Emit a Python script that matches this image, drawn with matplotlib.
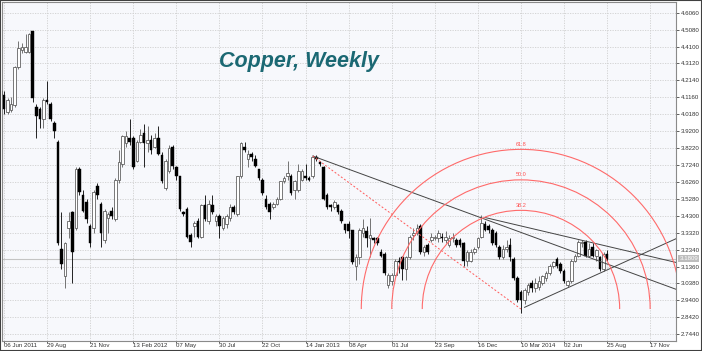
import numpy as np
import matplotlib.pyplot as plt
from matplotlib.patches import Arc, Rectangle

# weekly candles, index 0 = week of 06 Jun 2011
weeks = np.arange(-1, 169)
opens = [4.15, 4.13, 4.03, 4.04, 4.07, 4.29, 4.39, 4.38, 4.38, 4.50,
         4.06, 4.05, 3.99, 4.10, 4.08, 3.97, 3.86, 3.24, 3.08, 3.36,
         3.45, 3.36, 3.70, 3.55, 3.51, 3.37, 3.36, 3.60, 3.50, 3.29,
         3.42, 3.46, 3.41, 3.64, 3.73, 3.85, 3.88, 3.88, 3.75, 3.86,
         3.91, 3.85, 3.87, 3.83, 3.88, 3.78, 3.59, 3.69, 3.83, 3.71,
         3.66, 3.45, 3.47, 3.32, 3.37, 3.40, 3.31, 3.49, 3.40, 3.49,
         3.40, 3.43, 3.36, 3.38, 3.42, 3.48, 3.44, 3.66, 3.83, 3.76,
         3.79, 3.76, 3.70, 3.64, 3.53, 3.50, 3.48, 3.50, 3.53, 3.63,
         3.66, 3.66, 3.58, 3.58, 3.64, 3.66, 3.65, 3.66, 3.77, 3.74,
         3.71, 3.55, 3.49, 3.48, 3.49, 3.46, 3.38, 3.38, 3.35, 3.14,
         3.19, 3.33, 3.34, 3.30, 3.30, 3.30, 3.22, 3.21, 3.03, 3.05,
         3.09, 3.17, 3.19, 3.12, 3.19, 3.32, 3.33, 3.37, 3.22, 3.26,
         3.29, 3.30, 3.30, 3.31, 3.29, 3.26, 3.30, 3.29, 3.29, 3.27,
         3.17, 3.17, 3.22, 3.25, 3.31, 3.38, 3.37, 3.35, 3.33, 3.25,
         3.19, 3.24, 3.26, 3.18, 3.07, 2.99, 2.94, 2.99, 3.04, 3.01,
         3.02, 3.04, 3.07, 3.10, 3.14, 3.18, 3.15, 3.11, 3.03, 3.05,
         3.17, 3.20, 3.27, 3.28, 3.20, 3.25, 3.20, 3.19, 3.12, 3.21]
highs = [4.17, 4.15, 4.11, 4.12, 4.30, 4.44, 4.43, 4.48, 4.49, 4.50,
         4.08, 4.06, 4.11, 4.21, 4.09, 3.98, 3.87, 3.45, 3.28, 3.45,
         3.46, 3.71, 3.71, 3.58, 3.53, 3.38, 3.58, 3.62, 3.51, 3.47,
         3.45, 3.48, 3.65, 3.81, 3.90, 3.92, 3.99, 3.89, 3.87, 3.93,
         3.96, 3.95, 3.90, 3.91, 3.95, 3.80, 3.76, 3.84, 3.84, 3.72,
         3.66, 3.46, 3.48, 3.33, 3.40, 3.42, 3.50, 3.55, 3.52, 3.55,
         3.44, 3.44, 3.43, 3.44, 3.50, 3.49, 3.66, 3.86, 3.86, 3.81,
         3.80, 3.78, 3.70, 3.65, 3.55, 3.51, 3.51, 3.54, 3.63, 3.66,
         3.75, 3.67, 3.64, 3.73, 3.70, 3.73, 3.66, 3.78, 3.78, 3.75,
         3.72, 3.56, 3.50, 3.52, 3.50, 3.47, 3.38, 3.40, 3.35, 3.21,
         3.36, 3.41, 3.37, 3.42, 3.31, 3.31, 3.24, 3.22, 3.10, 3.10,
         3.18, 3.19, 3.20, 3.20, 3.32, 3.36, 3.38, 3.38, 3.26, 3.27,
         3.33, 3.32, 3.35, 3.33, 3.34, 3.32, 3.33, 3.30, 3.30, 3.28,
         3.23, 3.24, 3.25, 3.31, 3.435, 3.40, 3.38, 3.36, 3.34, 3.26,
         3.26, 3.29, 3.30, 3.19, 3.08, 3.00, 3.01, 3.04, 3.06, 3.07,
         3.08, 3.09, 3.11, 3.15, 3.17, 3.19, 3.16, 3.12, 3.06, 3.18,
         3.21, 3.29, 3.29, 3.29, 3.27, 3.27, 3.24, 3.20, 3.22, 3.23]
lows = [4.11, 4.02, 4.02, 4.03, 4.06, 4.28, 4.37, 4.37, 4.37, 4.09,
        3.88, 3.94, 3.94, 4.08, 3.98, 3.88, 3.26, 3.12, 3.01, 3.30,
        3.04, 3.35, 3.55, 3.45, 3.39, 3.25, 3.33, 3.53, 3.25, 3.27,
        3.33, 3.41, 3.40, 3.62, 3.71, 3.83, 3.84, 3.70, 3.74, 3.85,
        3.71, 3.80, 3.79, 3.82, 3.78, 3.62, 3.58, 3.68, 3.70, 3.64,
        3.46, 3.43, 3.30, 3.25, 3.31, 3.30, 3.30, 3.40, 3.38, 3.44,
        3.37, 3.30, 3.35, 3.36, 3.40, 3.44, 3.43, 3.65, 3.80, 3.71,
        3.75, 3.71, 3.64, 3.55, 3.47, 3.41, 3.47, 3.49, 3.52, 3.62,
        3.64, 3.55, 3.53, 3.57, 3.63, 3.64, 3.63, 3.65, 3.75, 3.72,
        3.52, 3.47, 3.46, 3.47, 3.44, 3.39, 3.33, 3.30, 3.15, 3.06,
        3.15, 3.31, 3.25, 3.19, 3.27, 3.26, 3.19, 3.09, 3.01, 3.03,
        3.08, 3.10, 3.06, 3.06, 3.18, 3.29, 3.32, 3.21, 3.20, 3.21,
        3.28, 3.29, 3.28, 3.28, 3.27, 3.25, 3.28, 3.25, 3.25, 3.14,
        3.14, 3.16, 3.21, 3.24, 3.30, 3.34, 3.33, 3.26, 3.25, 3.18,
        3.18, 3.22, 3.17, 3.06, 2.93, 2.865, 2.92, 2.97, 2.99, 2.99,
        3.00, 3.03, 3.05, 3.09, 3.13, 3.13, 3.10, 3.04, 3.02, 3.04,
        3.16, 3.19, 3.25, 3.19, 3.19, 3.19, 3.17, 3.11, 3.11, 3.17]
closes = [4.13, 4.05, 4.10, 4.08, 4.29, 4.40, 4.41, 4.41, 4.48, 4.11,
          4.01, 3.99, 4.10, 4.09, 3.99, 3.92, 3.27, 3.15, 3.27, 3.40,
          3.22, 3.70, 3.57, 3.46, 3.41, 3.27, 3.57, 3.55, 3.33, 3.46,
          3.44, 3.43, 3.64, 3.74, 3.89, 3.89, 3.86, 3.71, 3.86, 3.90,
          3.85, 3.87, 3.81, 3.88, 3.79, 3.63, 3.75, 3.82, 3.72, 3.66,
          3.47, 3.44, 3.31, 3.28, 3.39, 3.31, 3.49, 3.41, 3.50, 3.45,
          3.43, 3.37, 3.42, 3.43, 3.48, 3.45, 3.66, 3.85, 3.81, 3.79,
          3.77, 3.72, 3.65, 3.56, 3.48, 3.45, 3.50, 3.53, 3.63, 3.65,
          3.68, 3.56, 3.63, 3.69, 3.69, 3.65, 3.64, 3.77, 3.76, 3.73,
          3.53, 3.48, 3.48, 3.51, 3.45, 3.40, 3.35, 3.34, 3.16, 3.19,
          3.35, 3.36, 3.30, 3.32, 3.29, 3.27, 3.20, 3.10, 3.09, 3.09,
          3.17, 3.16, 3.12, 3.19, 3.31, 3.33, 3.36, 3.22, 3.25, 3.22,
          3.31, 3.31, 3.33, 3.30, 3.31, 3.30, 3.31, 3.26, 3.26, 3.17,
          3.22, 3.22, 3.24, 3.30, 3.39, 3.35, 3.35, 3.27, 3.26, 3.19,
          3.24, 3.25, 3.19, 3.07, 2.94, 2.94, 3.00, 3.03, 3.01, 3.04,
          3.05, 3.08, 3.10, 3.14, 3.16, 3.14, 3.11, 3.05, 3.05, 3.17,
          3.20, 3.28, 3.28, 3.20, 3.24, 3.20, 3.23, 3.12, 3.21, 3.18]

last_price = 3.1809
y_ticks = [2.7440 + 0.098 * k for k in range(20)]
x_ticks = list(range(0, 181, 12))
x_labels = ['06 Jun 2011', '29 Aug', '21 Nov', '13 Feb 2012', '07 May', '30 Jul',
            '22 Oct', '14 Jan 2013', '08 Apr', '01 Jul', '23 Sep', '16 Dec',
            '10 Mar 2014', '02 Jun', '25 Aug', '17 Nov']

# drawing objects
fib_p1 = (86, 3.776)
fib_p2 = (144, 2.89)
fib_levels = [38.2, 50.0, 61.8]
line_a = [(86, 3.776), (134, 3.41)]
line_b = [(134, 3.42), (161, 3.288)]
line_c = [(145, 2.90), (157, 3.013)]

W, H = 702, 351
small = 'Liberation Sans'
fig = plt.figure(figsize=(W / 100, H / 100), dpi=100)
fig.patch.set_facecolor('white')
ax = fig.add_axes([2 / W, 10 / H, 674 / W, 339 / H])
ax.set_facecolor('#f7f8fc')
xlim = (-2 / 3.59, 672 / 3.59)
ylim = (2.705, 4.668)
ax.set_xlim(xlim)
ax.set_ylim(ylim)

ax.grid(True, ls=(0, (1.5, 1.5)), color='#cfcfcf', lw=0.6)
ax.set_axisbelow(True)
ax.axhline(last_price, color='#c4c4c4', lw=0.8, zorder=1)

o = np.array(opens); h = np.array(highs); l = np.array(lows); c = np.array(closes)
up = c >= o
body_w = 0.72
# wicks
ax.vlines(weeks[up], l[up], h[up], color='#5e5e5e', lw=0.6, zorder=2)
ax.vlines(weeks[~up], l[~up], h[~up], color='black', lw=0.6, zorder=2)
bh = np.maximum(np.abs(c - o), 0.004)
ax.bar(weeks[up], bh[up], bottom=np.minimum(o, c)[up], width=body_w,
       color='white', edgecolor='#555555', lw=0.55, zorder=3)
ax.bar(weeks[~up], bh[~up], bottom=np.minimum(o, c)[~up], width=body_w,
       color='black', edgecolor='black', lw=0.3, zorder=3)


def ray(p, q):
    slope = (q[1] - p[1]) / (q[0] - p[0])
    xe = xlim[1] + 1
    return [p[0], xe], [p[1], p[1] + slope * (xe - p[0])]


for ln in (line_a, line_b, line_c):
    xs, ys = ray(*ln)
    ax.plot(xs, ys, color='#444444', lw=0.7, zorder=5)

# fibonacci arcs (circles in pixel space)
sx = 674 / (xlim[1] - xlim[0])
sy = 339 / (ylim[1] - ylim[0])
d = np.hypot((fib_p2[0] - fib_p1[0]) * sx, (fib_p2[1] - fib_p1[1]) * sy)
ax.plot([fib_p1[0], fib_p2[0]], [fib_p1[1], fib_p2[1]], color='#ff5a5a',
        lw=0.7, ls=(0, (2, 2)), zorder=5)
for lev in fib_levels:
    r = d * lev / 100
    ax.add_patch(Arc(fib_p2, 2 * r / sx, 2 * r / sy, theta1=0, theta2=180,
                     color='#ff6a6a', lw=0.8, zorder=5))
    ax.text(fib_p2[0], fib_p2[1] + (r + 5) / sy, '%.1f' % lev, color='#ff5050',
            fontsize=4, family=small, ha='center', va='center', zorder=6)

# axes styling
for s in ax.spines.values():
    s.set_color('#8a8a8a')
    s.set_linewidth(0.8)
ax.yaxis.tick_right()
ax.set_yticks(y_ticks)
ax.set_yticklabels(['%.4f' % v for v in y_ticks], family=small)
ax.set_xticks(x_ticks)
ax.set_xticklabels(x_labels, ha='left', family=small)
ax.tick_params(axis='both', labelsize=4.4, width=0.6, colors='#444444',
               labelcolor='#333333')
ax.tick_params(axis='y', length=2.2, pad=1)
ax.tick_params(axis='x', length=1.2, pad=0.4)

ax.text(1.005, last_price, '%.4f' % last_price, transform=ax.get_yaxis_transform(),
        fontsize=4.4, family=small, color='white', va='center', ha='left',
        bbox=dict(boxstyle='square,pad=0.15', fc='#bdbdbd', ec='none'))

fig.text(299 / W, 1 - 61 / H, 'Copper, Weekly', family='Liberation Sans',
         weight='bold', style='italic', fontsize=15.5, color='#1b6873',
         ha='center', va='center')

fig.patches.append(Rectangle((0, 0), 1, 1, transform=fig.transFigure, fill=False,
                             ec='#404040', lw=1.5))

fig.savefig('out.png', dpi=100)
